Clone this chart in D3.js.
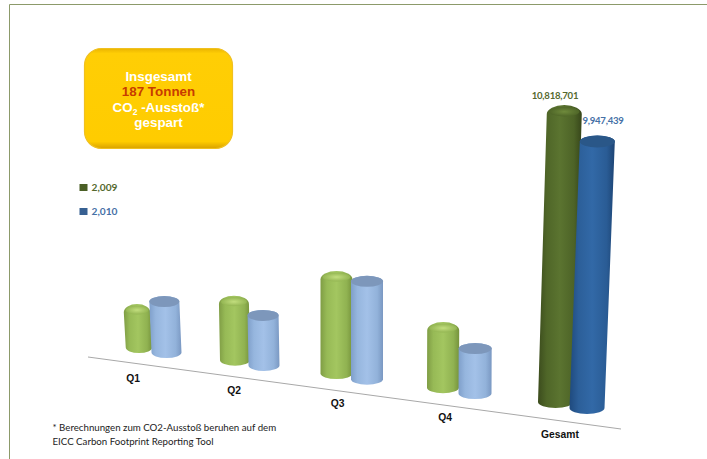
<!DOCTYPE html>
<html><head><meta charset="utf-8">
<script src="https://cdn.jsdelivr.net/npm/d3@7/dist/d3.min.js"></script>
<style>html,body{margin:0;background:#fff;overflow:hidden}svg{display:block}</style>
</head><body><svg id="c" width="707" height="459"></svg>
<script>
const categories = ["Q1","Q2","Q3","Q4","Gesamt"];
const values2009 = [1750000,2500000,3860000,2540000,10818701];
const values2010 = [2210000,2180000,3890000,2000000,9947439];
const seriesNames = ["2,009","2,010"];
const boxLines = ["Insgesamt","187 Tonnen","CO","gespart"];
const footnote = ["* Berechnungen zum CO2-Ausstoß beruhen auf dem","EICC Carbon Footprint Reporting Tool"];

const svg = d3.select("#c");
const defs = svg.append("defs");
const fmt = d3.format(",");
const calibri = "Lato, 'Open Sans', sans-serif";
const arial = "'Liberation Sans', Arial, sans-serif";

// scales
const height = d3.scaleLinear([0,1e7],[0,280]);
const labelX = d3.scaleOrdinal(categories,[133,234,337.5,445,560]);
const labelY = d3.scaleOrdinal(categories,[382,394,407,421,438]);
const cx = [d3.scaleOrdinal(categories,[139,235,336.5,443,555.5]), d3.scaleOrdinal(categories,[166.5,264,367,475,587])];
const width = [d3.scaleOrdinal(categories,[26.5,30,32,32,35]), d3.scaleOrdinal(categories,[30,31,32,33,35])];
const floorY = [d3.scaleLinear([139,555.5],[353,408]), d3.scaleLinear([166.5,587],[358,414])];
const shear = [d3.scaleOrdinal(categories,[-0.04,-0.015,0,0.003,0.029]), d3.scaleOrdinal(categories,[-0.035,-0.015,0,0.003,0.037])];

// frame
svg.append("path").attr("d","M9.5,459V4.5H707").attr("fill","none").attr("stroke","#8c9a6a").attr("stroke-width",1);

// gradients
function grad(id,stops){
  const g=defs.append("linearGradient").attr("id",id);
  stops.forEach(([o,c])=>g.append("stop").attr("offset",o).attr("stop-color",c));
}
grad("lg",[[0,"#7f9d45"],[.2,"#97ba56"],[.5,"#a3c660"],[.82,"#90b251"],[1,"#76933c"]]);
grad("lb",[[0,"#7f9fca"],[.2,"#96b6de"],[.5,"#a3c1e8"],[.82,"#92b2da"],[1,"#7a98c2"]]);
grad("dg",[[0,"#3c4c1d"],[.2,"#4f6628"],[.5,"#5b7430"],[.82,"#4d6327"],[1,"#37461a"]]);
grad("db",[[0,"#1f4a7e"],[.2,"#2c5f99"],[.5,"#3269a7"],[.82,"#2a5c95"],[1,"#1d4474"]]);
const rg=defs.append("radialGradient").attr("id","gtop");
rg.append("stop").attr("offset",0).attr("stop-color","#c2de7e");
rg.append("stop").attr("offset",1).attr("stop-color","#94b653");
const rd=defs.append("radialGradient").attr("id","dtop");
rd.append("stop").attr("offset",0).attr("stop-color","#6f8a3c");
rd.append("stop").attr("offset",1).attr("stop-color","#4f6628");

// axis floor line
svg.append("line").attr("x1",88).attr("y1",357).attr("x2",621).attr("y2",429)
  .attr("stroke","#a8a8a8").attr("stroke-width",1);

// cylinders
const rows=[];
categories.forEach((c,i)=>{
  [values2009[i],values2010[i]].forEach((v,s)=>{
    rows.push({c,i,s,v});
  });
});
function geom(d){
  const x=cx[d.s](d.c), r=width[d.s](d.c)/2, b=floorY[d.s](x), h=height(d.v);
  const ry=d.i===4?6:5.5, top=b-h, dx=shear[d.s](d.c)*h;
  return {x,r,b,h,ry,top,dx};
}
const bars=svg.append("g").selectAll("g").data(rows).join("g");
bars.append("path")
  .attr("d",d=>{const g=geom(d);
    const sr=d.s===0?g.ry*1.5:g.ry;
    return `M${g.x-g.r},${g.b-g.ry}A${g.r},${g.ry} 0 0 0 ${g.x+g.r},${g.b-g.ry}`+
      `L${g.x+g.r+g.dx},${g.top+sr}A${g.r},${sr} 0 0 0 ${g.x-g.r+g.dx},${g.top+sr}Z`;})
  .attr("fill",d=>`url(#${d.i===4?(d.s?"db":"dg"):(d.s?"lb":"lg")})`);
bars.append("ellipse")
  .attr("cx",d=>{const g=geom(d);return g.x+g.dx;})
  .attr("cy",d=>{const g=geom(d);return g.top+g.ry*(d.s?1:1.1);})
  .attr("rx",d=>geom(d).r*(d.s?1:.86))
  .attr("ry",d=>geom(d).ry*(d.s?1:.8))
  .attr("fill",d=>d.s?(d.i===4?"#2a5788":"#7d97bb"):(d.i===4?"url(#dtop)":"url(#gtop)"));

// category labels
svg.append("g").selectAll("text").data(categories).join("text")
  .attr("x",labelX).attr("y",labelY).attr("text-anchor","middle")
  .attr("font-family",arial).attr("font-weight",700).attr("font-size",10.3).attr("fill","#111")
  .text(d=>d);

// value labels for the total
const totalIndex=categories.indexOf("Gesamt");
svg.append("text").attr("x",555).attr("y",98.5).attr("text-anchor","middle")
  .attr("font-family",calibri).attr("font-weight",700).attr("font-size",9.6).attr("letter-spacing",-0.25).attr("fill","#55692e")
  .text(fmt(values2009[totalIndex]));
svg.append("text").attr("x",603).attr("y",124).attr("text-anchor","middle")
  .attr("font-family",calibri).attr("font-weight",700).attr("font-size",9.6).attr("letter-spacing",-0.25).attr("fill","#4570a6")
  .text(fmt(values2010[totalIndex]));

// legend
const legendY=[187.5,211.5];
const legendC=["#4a5f25","#376092"];
const lg=svg.append("g").selectAll("g").data(seriesNames).join("g");
lg.append("rect").attr("x",79.5).attr("y",(d,i)=>legendY[i]-3.5).attr("width",8).attr("height",7).attr("fill",(d,i)=>legendC[i]);
lg.append("text").attr("x",91.5).attr("y",(d,i)=>legendY[i]+3.5)
  .attr("font-family",calibri).attr("font-weight",700).attr("font-size",10.2)
  .attr("fill",(d,i)=>i?"#4570a6":"#55692e").text(d=>d);

// callout box
const bg=defs.append("linearGradient").attr("id","box").attr("x1",0).attr("x2",0).attr("y1",0).attr("y2",1);
[[0,"#eab400"],[.05,"#ffce05"],[.93,"#ffcc00"],[1,"#d9a200"]].forEach(([o,c])=>bg.append("stop").attr("offset",o).attr("stop-color",c));
svg.append("rect").attr("x",84.5).attr("y",48.5).attr("width",148).attr("height",100).attr("rx",17)
  .attr("fill","url(#box)").attr("stroke","#f0c020").attr("stroke-width",1.2);
const boxText=svg.append("g").attr("text-anchor","middle").attr("font-family",arial).attr("font-weight",700).attr("font-size",13.4);
const boxY=[81,96,112,127];
boxLines.forEach((t,i)=>{
  const el=boxText.append("text").attr("x",158.5).attr("y",boxY[i]).attr("fill",i===1?"#c83c00":"#fff").text(t);
  if(t==="CO"){
    el.append("tspan").attr("font-size",8.5).attr("dy",2.5).text("2");
    el.append("tspan").attr("dy",-2.5).text(" -Ausstoß*");
  }
});

// footnote
svg.append("g").selectAll("text").data(footnote).join("text")
  .attr("x",52.5).attr("y",(d,i)=>431+i*13.5)
  .attr("font-family",calibri).attr("font-size",9.7).attr("fill","#222").text(d=>d);
</script></body></html>
